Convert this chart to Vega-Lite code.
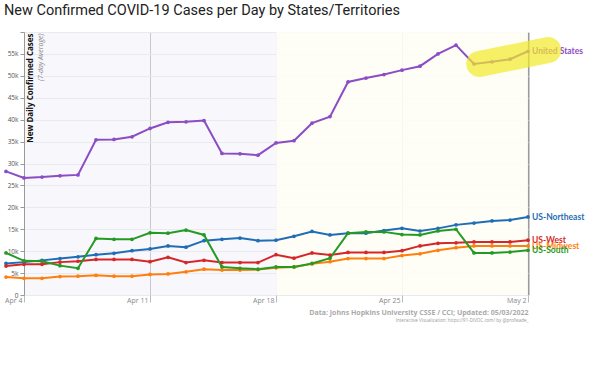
{
  "$schema": "https://vega.github.io/schema/vega-lite/v6.json",
  "width": 504,
  "height": 263,
  "autosize": "none",
  "padding": {"left": 24, "top": 32, "right": 72, "bottom": 93},
  "background": "white",
  "title": {"text": "New Confirmed COVID-19 Cases per Day by States/Territories", "anchor": "start", "dx": 2, "dy": 32, "offset": 0, "font": "Roboto", "fontSize": 14.5, "fontWeight": "normal", "color": "#222222", "baseline": "alphabetic"},
  "config": {"view": {"stroke": null, "fill": "#f7f7fc"}},
  "datasets": {
    "main": [
      {"date": "2022-04-03", "United States": 28200, "US-Northeast": 7200, "US-West": 6600, "US-Midwest": 4100, "US-South": 9600},
      {"date": "2022-04-04", "United States": 26700, "US-Northeast": 7500, "US-West": 7000, "US-Midwest": 3800, "US-South": 7800},
      {"date": "2022-04-05", "United States": 26900, "US-Northeast": 7900, "US-West": 7000, "US-Midwest": 3800, "US-South": 7700},
      {"date": "2022-04-06", "United States": 27200, "US-Northeast": 8300, "US-West": 7500, "US-Midwest": 4200, "US-South": 6700},
      {"date": "2022-04-07", "United States": 27400, "US-Northeast": 8700, "US-West": 7700, "US-Midwest": 4300, "US-South": 6100},
      {"date": "2022-04-08", "United States": 35400, "US-Northeast": 9200, "US-West": 8100, "US-Midwest": 4500, "US-South": 12900},
      {"date": "2022-04-09", "United States": 35500, "US-Northeast": 9500, "US-West": 8100, "US-Midwest": 4300, "US-South": 12700},
      {"date": "2022-04-10", "United States": 36100, "US-Northeast": 10100, "US-West": 8100, "US-Midwest": 4300, "US-South": 12700},
      {"date": "2022-04-11", "United States": 38000, "US-Northeast": 10500, "US-West": 7600, "US-Midwest": 4700, "US-South": 14200},
      {"date": "2022-04-12", "United States": 39400, "US-Northeast": 11200, "US-West": 8600, "US-Midwest": 4800, "US-South": 14100},
      {"date": "2022-04-13", "United States": 39500, "US-Northeast": 10900, "US-West": 7400, "US-Midwest": 5300, "US-South": 14800},
      {"date": "2022-04-14", "United States": 39800, "US-Northeast": 12400, "US-West": 7900, "US-Midwest": 5900, "US-South": 13700},
      {"date": "2022-04-15", "United States": 32300, "US-Northeast": 12700, "US-West": 7400, "US-Midwest": 5700, "US-South": 6400},
      {"date": "2022-04-16", "United States": 32200, "US-Northeast": 13000, "US-West": 7400, "US-Midwest": 5700, "US-South": 6100},
      {"date": "2022-04-17", "United States": 31900, "US-Northeast": 12400, "US-West": 7400, "US-Midwest": 5800, "US-South": 5900},
      {"date": "2022-04-18", "United States": 34700, "US-Northeast": 12500, "US-West": 9200, "US-Midwest": 6200, "US-South": 6400},
      {"date": "2022-04-19", "United States": 35200, "US-Northeast": 13400, "US-West": 8400, "US-Midwest": 6400, "US-South": 6400},
      {"date": "2022-04-20", "United States": 39200, "US-Northeast": 14500, "US-West": 9600, "US-Midwest": 7100, "US-South": 7200},
      {"date": "2022-04-21", "United States": 40700, "US-Northeast": 13700, "US-West": 9100, "US-Midwest": 7600, "US-South": 8400},
      {"date": "2022-04-22", "United States": 48600, "US-Northeast": 14100, "US-West": 9700, "US-Midwest": 8300, "US-South": 14100},
      {"date": "2022-04-23", "United States": 49500, "US-Northeast": 14100, "US-West": 9700, "US-Midwest": 8300, "US-South": 14400},
      {"date": "2022-04-24", "United States": 50300, "US-Northeast": 14700, "US-West": 9700, "US-Midwest": 8300, "US-South": 14400},
      {"date": "2022-04-25", "United States": 51300, "US-Northeast": 15200, "US-West": 10100, "US-Midwest": 9000, "US-South": 13800},
      {"date": "2022-04-26", "United States": 52200, "US-Northeast": 14600, "US-West": 11200, "US-Midwest": 9400, "US-South": 13700},
      {"date": "2022-04-27", "United States": 55000, "US-Northeast": 15200, "US-West": 11800, "US-Midwest": 10200, "US-South": 14600},
      {"date": "2022-04-28", "United States": 57000, "US-Northeast": 16000, "US-West": 11900, "US-Midwest": 10800, "US-South": 15000},
      {"date": "2022-04-29", "United States": 52700, "US-Northeast": 16400, "US-West": 12100, "US-Midwest": 11200, "US-South": 9600},
      {"date": "2022-04-30", "United States": 53200, "US-Northeast": 16900, "US-West": 12100, "US-Midwest": 11200, "US-South": 9600},
      {"date": "2022-05-01", "United States": 53800, "US-Northeast": 17100, "US-West": 12100, "US-Midwest": 11200, "US-South": 9800},
      {"date": "2022-05-02", "United States": 55600, "US-Northeast": 17800, "US-West": 12500, "US-Midwest": 11200, "US-South": 10200}
    ]
  },
  "layer": [
    {
      "data": {"values": [{"start": "2022-04-18", "end": "2022-05-02"}]},
      "mark": {"type": "rect", "fill": "#fffff6", "opacity": 0.85},
      "encoding": {
        "x": {"field": "start", "type": "temporal", "scale": {"type": "utc", "domain": [{"year": 2022, "month": 4, "date": 4, "utc": true}, {"year": 2022, "month": 5, "date": 2, "utc": true}]}, "axis": null},
        "x2": {"field": "end"}
      }
    },
    {
      "data": {"name": "main"},
      "transform": [{"fold": ["United States", "US-Northeast", "US-West", "US-Midwest", "US-South"], "as": ["region", "value"]}],
      "mark": {"type": "line", "strokeWidth": 2, "point": {"filled": true, "size": 14}},
      "encoding": {
        "x": {"field": "date", "type": "temporal",
          "scale": {"type": "utc", "domain": [{"year": 2022, "month": 4, "date": 4, "utc": true}, {"year": 2022, "month": 5, "date": 2, "utc": true}]},
          "axis": {"orient": "bottom", "values": [{"year": 2022, "month": 4, "date": 4, "utc": true}, {"year": 2022, "month": 4, "date": 11, "utc": true}, {"year": 2022, "month": 4, "date": 18, "utc": true}, {"year": 2022, "month": 4, "date": 25, "utc": true}, {"year": 2022, "month": 5, "date": 2, "utc": true}],
            "format": "%b %-d", "labelAlign": "right", "labelBaseline": "top", "labelPadding": -6, "labelOffset": -2, "tickSize": 7, "tickColor": "#bbbbbb",
            "labelFont": "Open Sans", "labelFontSize": 7, "labelColor": "#888888", "domain": false, "grid": true,
            "gridColor": {"condition": {"test": "utcmonth(datum.value) == 4", "value": "#9a9a9a"}, "value": "#c8c8c8"},
            "gridWidth": {"condition": {"test": "utcmonth(datum.value) == 4", "value": 2}, "value": 1},
            "title": "Data: Johns Hopkins University CSSE / CCI; Updated: 05/03/2022", "titleX": 504, "titleY": 17, "titleAlign": "right", "titleBaseline": "middle",
            "titleFont": "Open Sans", "titleFontSize": 7, "titleFontWeight": "bold", "titleColor": "#aaaaaa"}},
        "y": {"field": "value", "type": "quantitative", "scale": {"domain": [0, 60000]},
          "axis": {"orient": "left", "values": [0, 5000, 10000, 15000, 20000, 25000, 30000, 35000, 40000, 45000, 50000, 55000, 60000],
            "labelExpr": "datum.value == 0 ? '0' : (datum.value == 60000 ? '' : (datum.value / 1000) + 'k')",
            "labelFont": "Open Sans", "labelFontSize": 6.5, "labelColor": "#555555", "labelPadding": 2, "tickSize": 4, "tickColor": "#999999",
            "domainColor": "#999999", "gridColor": "#e9e9ef",
            "title": "New Daily Confirmed Cases", "titleX": 2, "titleY": 1, "titleAngle": -90, "titleAlign": "right", "titleBaseline": "top",
            "titleFont": "Open Sans", "titleFontSize": 8, "titleFontWeight": "bold", "titleColor": "#111111"}},
        "color": {"field": "region", "type": "nominal", "legend": null,
          "scale": {"domain": ["United States", "US-Northeast", "US-West", "US-Midwest", "US-South"], "range": ["#8b4dc4", "#1f6db5", "#d62728", "#ff7f0e", "#239b23"]}}
      }
    },
    {
      "data": {"name": "main"},
      "transform": [{"fold": ["United States", "US-Northeast", "US-West", "US-Midwest", "US-South"], "as": ["region", "value"]}],
      "mark": {"type": "text", "align": "left", "baseline": "middle", "dx": 4, "font": "Lato", "fontSize": 8.5, "fontWeight": "bold"},
      "encoding": {
        "x": {"aggregate": "max", "field": "date", "type": "temporal", "axis": null},
        "y": {"aggregate": {"argmax": "date"}, "field": "value", "type": "quantitative", "axis": null},
        "color": {"field": "region", "type": "nominal", "legend": null},
        "text": {"field": "region"}
      }
    },
    {
      "data": {"values": [{"hx": "2022-04-29T07:00:00Z", "hy": 52700}, {"hx": "2022-05-03T03:00:00Z", "hy": 55900}]},
      "mark": {"type": "line", "color": "#f2ea2a", "opacity": 0.7, "strokeWidth": 26, "strokeCap": "round"},
      "encoding": {
        "x": {"field": "hx", "type": "temporal", "axis": {"orient": "bottom", "labels": false, "ticks": false, "domain": false, "grid": false,
          "title": "Interactive Visualization: https://91-DIVOC.com/ by @profwade_", "titleX": 504, "titleY": 25, "titleAlign": "right", "titleBaseline": "middle",
          "titleFont": "Open Sans", "titleFontSize": 4.5, "titleFontWeight": "normal", "titleColor": "#999999"}},
        "y": {"field": "hy", "type": "quantitative", "axis": {"orient": "left", "labels": false, "ticks": false, "domain": false, "grid": false,
          "title": "(7-day Average)", "titleX": 12, "titleY": 1, "titleAngle": -90, "titleAlign": "right", "titleBaseline": "top",
          "titleFont": "Open Sans", "titleFontSize": 7, "titleFontWeight": "normal", "titleFontStyle": "italic", "titleColor": "#888888"}}
      }
    }
  ],
  "resolve": {"axis": {"x": "independent", "y": "independent"}}
}
